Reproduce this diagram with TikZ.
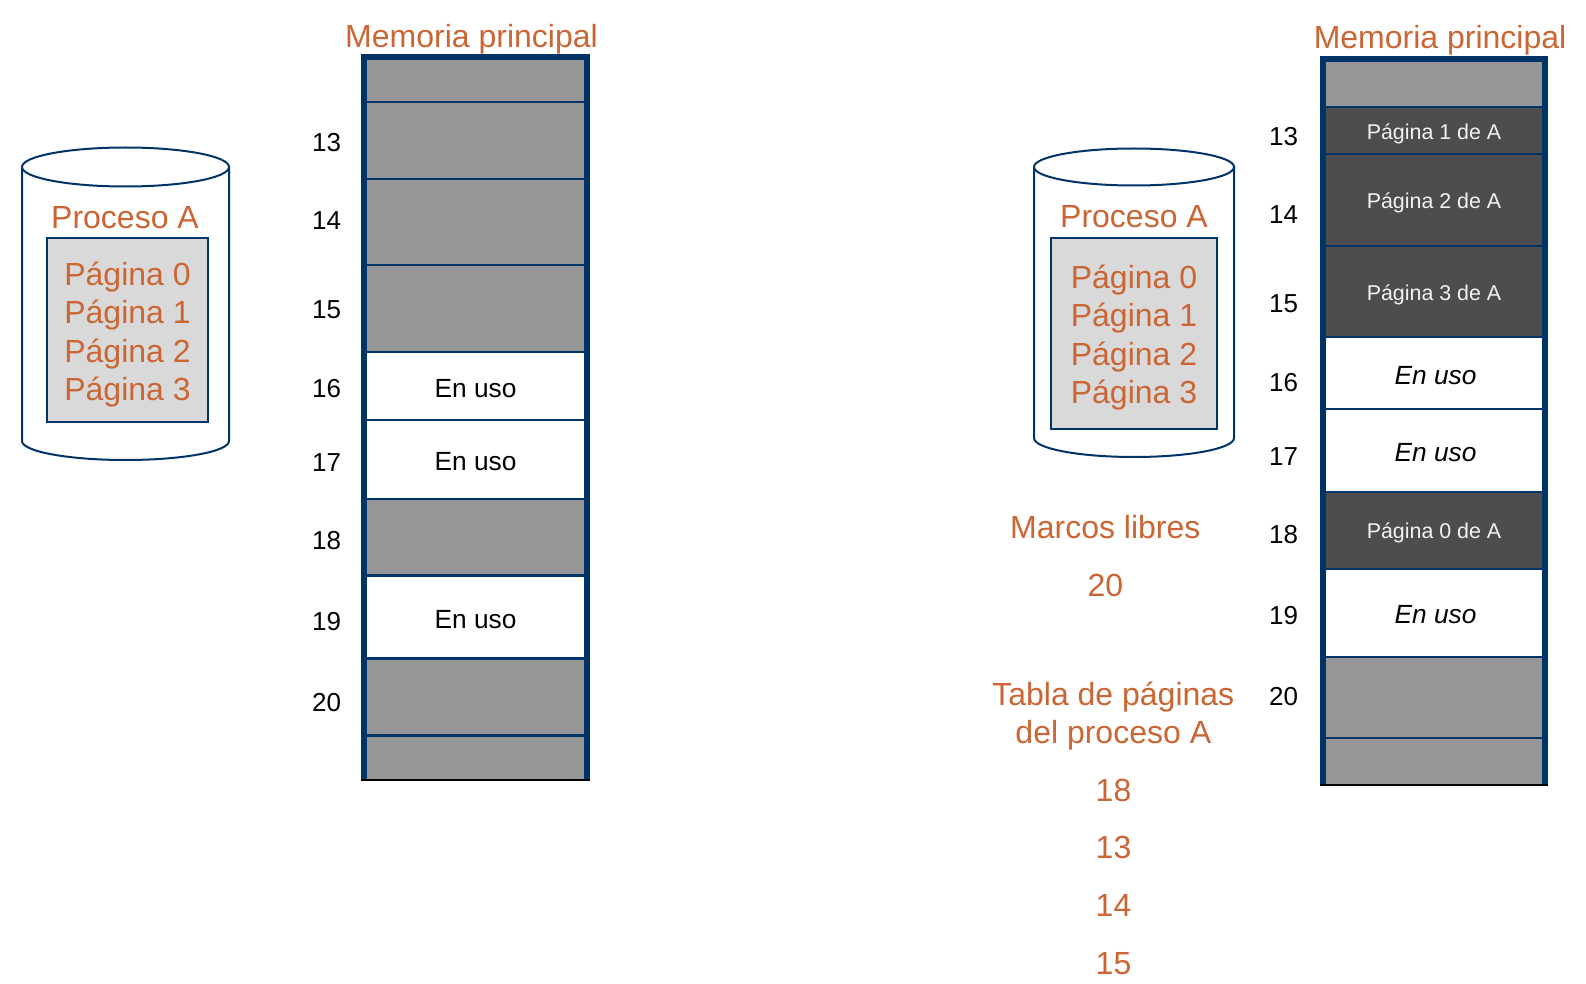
\documentclass[tikz,border=0pt]{standalone}
\usepackage{fontspec}
\setmainfont{Liberation Sans}
\definecolor{naranja}{RGB}{203,102,52}
\definecolor{azul}{RGB}{0,51,102}
\definecolor{libre}{RGB}{150,150,150}
\definecolor{ocupado}{RGB}{77,77,77}
\definecolor{caja}{RGB}{217,217,217}
\tikzset{
  x=1pt,y=-1pt,
  lbl/.style={anchor=base,inner sep=0pt,outer sep=0pt,align=center},
  big/.style={lbl,text=naranja,font=\fontsize{32}{38}\selectfont},
  num/.style={lbl,text=black,font=\fontsize{26}{31}\selectfont},
  uso/.style={lbl,text=black,font=\fontsize{26.3}{31}\selectfont},
  usoit/.style={lbl,text=black,font=\fontsize{26.3}{31}\selectfont\itshape},
  pag/.style={lbl,text=white!95!black,font=\fontsize{21.4}{26}\selectfont},
  sep/.style={draw=azul,line width=2.6pt},
  side/.style={draw=azul,line width=5.6pt},
  bott/.style={draw=black,line width=2.2pt},
  cyl/.style={draw=azul,line width=2pt,fill=white},
  inbox/.style={draw=azul,line width=2pt,fill=caja},
}
\begin{document}
\begin{tikzpicture}
\useasboundingbox (0,0) rectangle (1586,984);
\fill[white] (0,0) rectangle (1586,984);

% ---- left memory
\foreach \a/\b/\c in {57/102/libre,102/179/libre,179/265/libre,265/352/libre,352/420/white,420/499/white,499/575.5/libre,575.5/658.5/white,658.5/735.5/libre,735.5/780/libre}
  \fill[\c] (364,\a) rectangle (587,\b);
\foreach \y in {102,179,265,352,420,499,575.5,658.5,735.5}
  \draw[sep] (364,\y) -- (587,\y);
\draw[side] (364,780) -- (364,57) -- (587,57) -- (587,780);
\draw[bott] (361.2,780) -- (589.8,780);

% ---- right memory
\foreach \a/\b/\c in {59/107/libre,107/154/ocupado,154/246/ocupado,246/337/ocupado,337/409/white,409/492/white,492/569/ocupado,569/657/white,657/738/libre,738/785/libre}
  \fill[\c] (1323,\a) rectangle (1545,\b);
\foreach \y in {107,154,246,337,409,492,569,657,738}
  \draw[sep] (1323,\y) -- (1545,\y);
\draw[side] (1323,785) -- (1323,59) -- (1545,59) -- (1545,785);
\draw[bott] (1320.2,785) -- (1547.8,785);

% ---- left cylinder
\draw[cyl] (22,167) -- (22,441) arc[start angle=180,end angle=0,x radius=103.5,y radius=19] -- (229,167);
\draw[cyl] (125.5,167) ellipse[x radius=103.5,y radius=19.5];
\node[inbox,inner sep=0pt,minimum width=161pt,minimum height=184pt] (boxL) at (127.5,330) {};

% ---- right cylinder
\draw[cyl] (1034,167) -- (1034,438) arc[start angle=180,end angle=0,x radius=100,y radius=19] -- (1234,167);
\draw[cyl] (1134,167) ellipse[x radius=100,y radius=18.5];
\node[inbox,inner sep=0pt,minimum width=166pt,minimum height=191pt] (boxR) at (1133.5,333.5) {};

% ---- orange texts
\node[big] (memL) at (471.5,48) {Memoria principal};
\node[big] (memR) at (1440,48.5) {Memoria principal};
\node[big] (procL) at (125,229) {Proceso A};
\node[big] (procR) at (1134,228) {Proceso A};
\node[big] (pL0) at (127.5,285) {Página 0};
\node[big] (pL1) at (127.5,323) {Página 1};
\node[big] (pL2) at (127.5,362) {Página 2};
\node[big] (pL3) at (127.5,400) {Página 3};
\node[big] (pR0) at (1134,288) {Página 0};
\node[big] (pR1) at (1134,326.5) {Página 1};
\node[big] (pR2) at (1134,365) {Página 2};
\node[big] (pR3) at (1134,403.5) {Página 3};
\node[big] (marcos) at (1105.3,538) {Marcos libres};
\node[big] (m20) at (1105.3,596) {20};
\node[big] (tabla) at (1113.3,705) {Tabla de páginas};
\node[big] (tabla2) at (1113.3,743.5) {del proceso A};
\node[big] (t18) at (1113.5,801) {18};
\node[big] (t13) at (1113.5,858) {13};
\node[big] (t14) at (1113.5,916) {14};
\node[big] (t15) at (1113.5,974) {15};

% ---- frame numbers
\node[num] (nL13) at (326.7,152) {13};
\node[num] (nL14) at (326.7,229.5) {14};
\node[num] (nL15) at (326.7,318) {15};
\node[num] (nL16) at (326.7,397) {16};
\node[num] (nL17) at (326.7,471) {17};
\node[num] (nL18) at (326.7,549.5) {18};
\node[num] (nL19) at (326.7,630.5) {19};
\node[num] (nL20) at (326.7,711) {20};
\node[num] (nR13) at (1283.6,146) {13};
\node[num] (nR14) at (1283.6,223.7) {14};
\node[num] (nR15) at (1283.6,312.7) {15};
\node[num] (nR16) at (1283.6,391.6) {16};
\node[num] (nR17) at (1283.6,465.5) {17};
\node[num] (nR18) at (1283.6,543.4) {18};
\node[num] (nR19) at (1283.6,624.3) {19};
\node[num] (nR20) at (1283.6,705) {20};

% ---- cell texts
\node[uso] (uL1) at (475.5,397.5) {En uso};
\node[uso] (uL2) at (475.5,470.5) {En uso};
\node[uso] (uL3) at (475.5,628) {En uso};
\node[usoit] (uR1) at (1435.5,384) {En uso};
\node[usoit] (uR2) at (1435.5,461.7) {En uso};
\node[usoit] (uR3) at (1435.5,623.6) {En uso};
\node[pag] (a1) at (1434,140) {Página 1 de A};
\node[pag] (a2) at (1434,208.8) {Página 2 de A};
\node[pag] (a3) at (1434,300.8) {Página 3 de A};
\node[pag] (a0) at (1434,538.5) {Página 0 de A};
\end{tikzpicture}
\end{document}
